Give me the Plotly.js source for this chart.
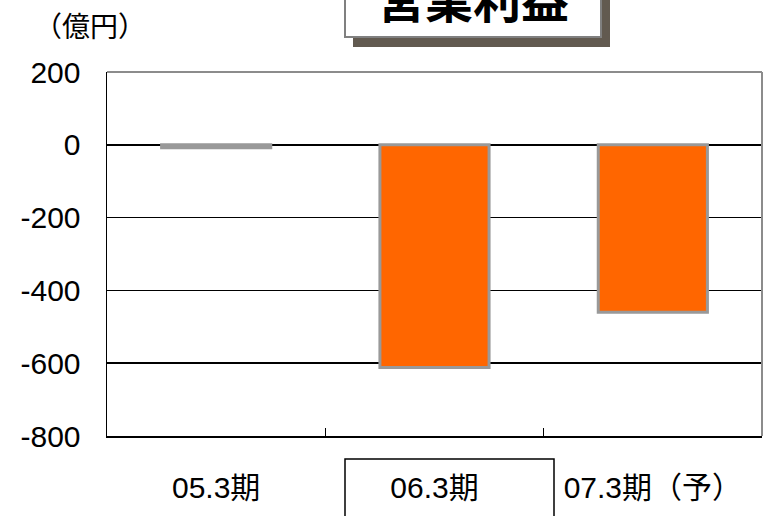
<!DOCTYPE html>
<html>
<head>
<meta charset="utf-8">
<script src="https://cdn.plot.ly/plotly-3.0.1.min.js"></script>
<style>html,body{margin:0;padding:0;background:#fff;}#chart{width:767px;height:516px;}</style>
</head>
<body>
<div id="chart"></div>
<script>
// ---- data ----
const categories = ["05.3期", "06.3期", "07.3期（予）"];
const operatingProfit = [-8, -612, -460];
const yTickValues = [-800, -600, -400, -200, 0, 200];
const yTickLabels = ["-800", "-600", "-400", "-200", "0", "200"];
const chartTitle = "営業利益";
const unitLabel = "（億円）";

// ---- layout helpers (pixel -> paper) ----
const W = 767, H = 516, L = 107, R = 5, T = 72, B = 80;
const PW = W - L - R, PH = H - T - B;
const px = x => (x - L) / PW;
const py = y => (H - B - y) / PH;

const baseFont = "Liberation Sans, Arial, Noto Sans CJK JP, sans-serif";

const trace = {
  type: "bar",
  x: categories,
  y: operatingProfit,
  width: 0.5,
  marker: { color: "#FF6600", line: { color: "#999999", width: 3 } },
  hoverinfo: "skip"
};

const layout = {
  width: W, height: H,
  margin: { l: L, r: R, t: T, b: B, pad: 0 },
  paper_bgcolor: "#ffffff",
  plot_bgcolor: "#ffffff",
  showlegend: false,
  font: { family: baseFont, color: "#000000", size: 30 },
  xaxis: {
    type: "category",
    tickson: "boundaries",
    ticks: "inside",
    ticklen: 8,
    tickwidth: 1,
    tickcolor: "#000000",
    showline: true,
    linecolor: "#000000",
    linewidth: 1.5,
    showgrid: false,
    zeroline: false,
    tickfont: { family: baseFont, size: 30, color: "#000000" },
    ticklabelstandoff: 24
  },
  yaxis: {
    range: [-800, 200],
    tickvals: yTickValues,
    ticktext: yTickLabels,
    ticks: "",
    showline: true,
    linecolor: "#000000",
    linewidth: 1.5,
    showgrid: true,
    gridcolor: "#000000",
    gridwidth: 1.5,
    zeroline: false,
    tickfont: { family: baseFont, size: 30, color: "#000000" },
    ticklabelstandoff: 19
  },
  shapes: [
    // plot area top & right border (gray)
    { type: "line", xref: "paper", yref: "paper", x0: 0, x1: 1, y0: 1, y1: 1,
      line: { color: "#8c8c8c", width: 2 } },
    { type: "line", xref: "paper", yref: "paper", x0: 1, x1: 1, y0: 0, y1: 1,
      line: { color: "#8c8c8c", width: 2 } },
    // title shadow
    { type: "rect", xref: "paper", yref: "paper", x0: px(353), x1: px(610), y0: py(47), y1: py(-20),
      fillcolor: "#625a50", line: { width: 0 } },
    // title box
    { type: "rect", xref: "paper", yref: "paper", x0: px(345), x1: px(601), y0: py(37), y1: py(-20),
      fillcolor: "#ffffff", line: { color: "#808080", width: 2 } },
    // box around the middle category label
    { type: "rect", xref: "paper", yref: "paper", x0: px(345), x1: px(554), y0: py(459), y1: py(540),
      fillcolor: "rgba(0,0,0,0)", line: { color: "#000000", width: 1.5 } }
  ],
  annotations: [
    { text: chartTitle, xref: "paper", yref: "paper", x: px(473), y: py(-3),
      xanchor: "center", yanchor: "middle", showarrow: false,
      font: { family: "Noto Sans CJK JP, sans-serif", size: 48, color: "#000000", weight: "bold" } },
    { text: unitLabel, xref: "paper", yref: "paper", x: px(90), y: py(25),
      xanchor: "center", yanchor: "middle", showarrow: false,
      font: { family: "Noto Sans CJK JP, sans-serif", size: 28, color: "#000000" } }
  ]
};

Plotly.newPlot("chart", [trace], layout, { staticPlot: true, displayModeBar: false });
</script>
</body>
</html>
